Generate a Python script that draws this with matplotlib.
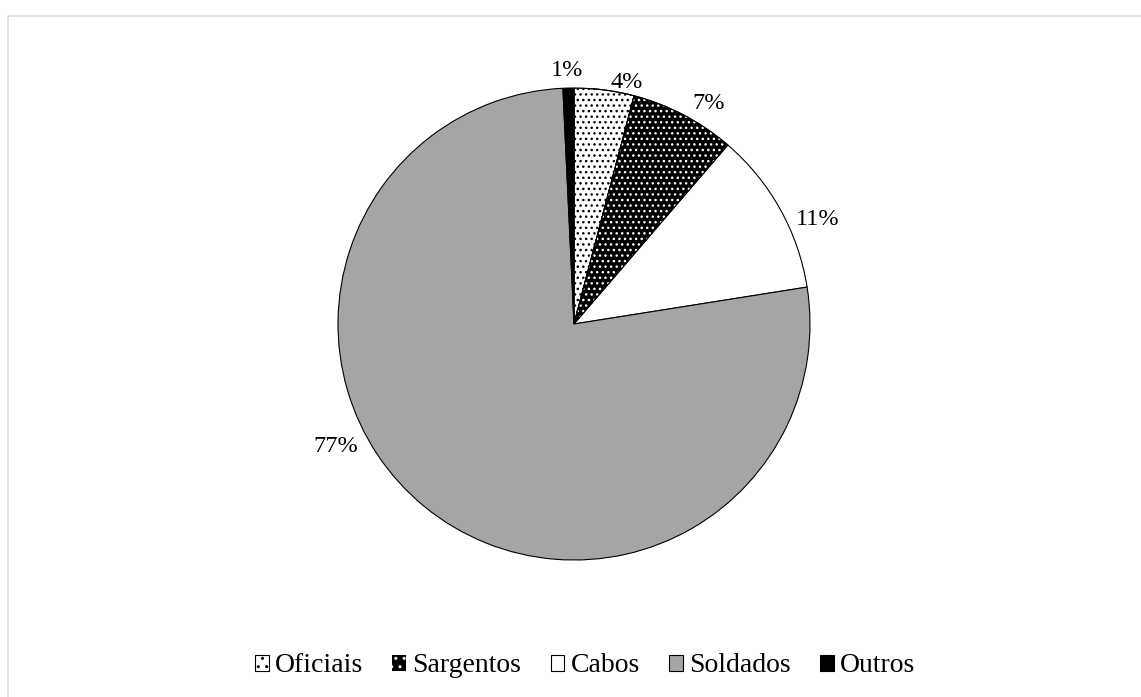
import matplotlib
matplotlib.use('Agg')
import matplotlib.pyplot as plt
from matplotlib.patches import Wedge, Patch
from matplotlib.lines import Line2D

# ---- data ----
categories = ['Oficiais', 'Sargentos', 'Cabos', 'Soldados', 'Outros']
values = [4.1, 7.2, 11.2, 76.75, 0.75]

# ---- styles / layout ----
faces = ['white', 'black', 'white', '#A5A5A5', 'black']
hatches = ['...', '...', None, None, None]
hatch_colors = ['black', 'white', None, None, None]
label_xy = [(0.225, 1.025), (0.572, 0.936), (1.034, 0.441), (-1.008, -0.521), (-0.030, 1.076)]

plt.rcParams['font.family'] = ['Liberation Serif', 'DejaVu Serif']
plt.rcParams['hatch.linewidth'] = 1.0

W, H = 1141, 697
fig = plt.figure(figsize=(W / 100, H / 100), dpi=100)
cx, cy, R = 574, 324, 236
ax = fig.add_axes([(cx - R) / W, (H - cy - R) / H, 2 * R / W, 2 * R / H])

wedges, _ = ax.pie(values, startangle=90, counterclock=False, colors=faces, radius=1,
                   wedgeprops=dict(edgecolor='black', linewidth=0.8))
for w, h, hc in zip(wedges, hatches, hatch_colors):
    if h:
        ax.add_patch(Wedge(w.center, w.r, w.theta1, w.theta2, facecolor='none',
                           edgecolor=hc, hatch=h, linewidth=0))
        ax.add_patch(Wedge(w.center, w.r, w.theta1, w.theta2, fill=False,
                           edgecolor='black', linewidth=0.8))

total = sum(values)
for v, (lx, ly) in zip(values, label_xy):
    ax.text(lx, ly, f"{round(v / total * 100):.0f}%", ha='center', va='center',
            fontsize=17.5, color='#000000')

ax.set_xlim(-1, 1)
ax.set_ylim(-1, 1)
ax.set_aspect('equal')
ax.axis('off')

handles = []
for f, h, hc in zip(faces, hatches, hatch_colors):
    if h and hc == 'white':
        handles.append(Patch(facecolor=f, edgecolor=hc, hatch='..', linewidth=0))
    elif h:
        handles.append(Patch(facecolor=f, edgecolor=hc, hatch='..', linewidth=0.8))
    else:
        handles.append(Patch(facecolor=f, edgecolor='black', linewidth=0.8))
fig.legend(handles, categories, loc='center', bbox_to_anchor=(585 / W, 1 - 666 / H),
           ncol=5, frameon=False, fontsize=20, handlelength=0.5, handleheight=0.5,
           handletextpad=0.22, columnspacing=1.05, borderaxespad=0)

# chart-area border (top and left visible)
x0 = 7.5 / W
yt = 1 - 15.5 / H
fig.add_artist(Line2D([x0, x0, 1.0], [0, yt, yt], transform=fig.transFigure,
                      color='#D9D9D9', linewidth=1.1))

fig.savefig('out.png', dpi=100)
